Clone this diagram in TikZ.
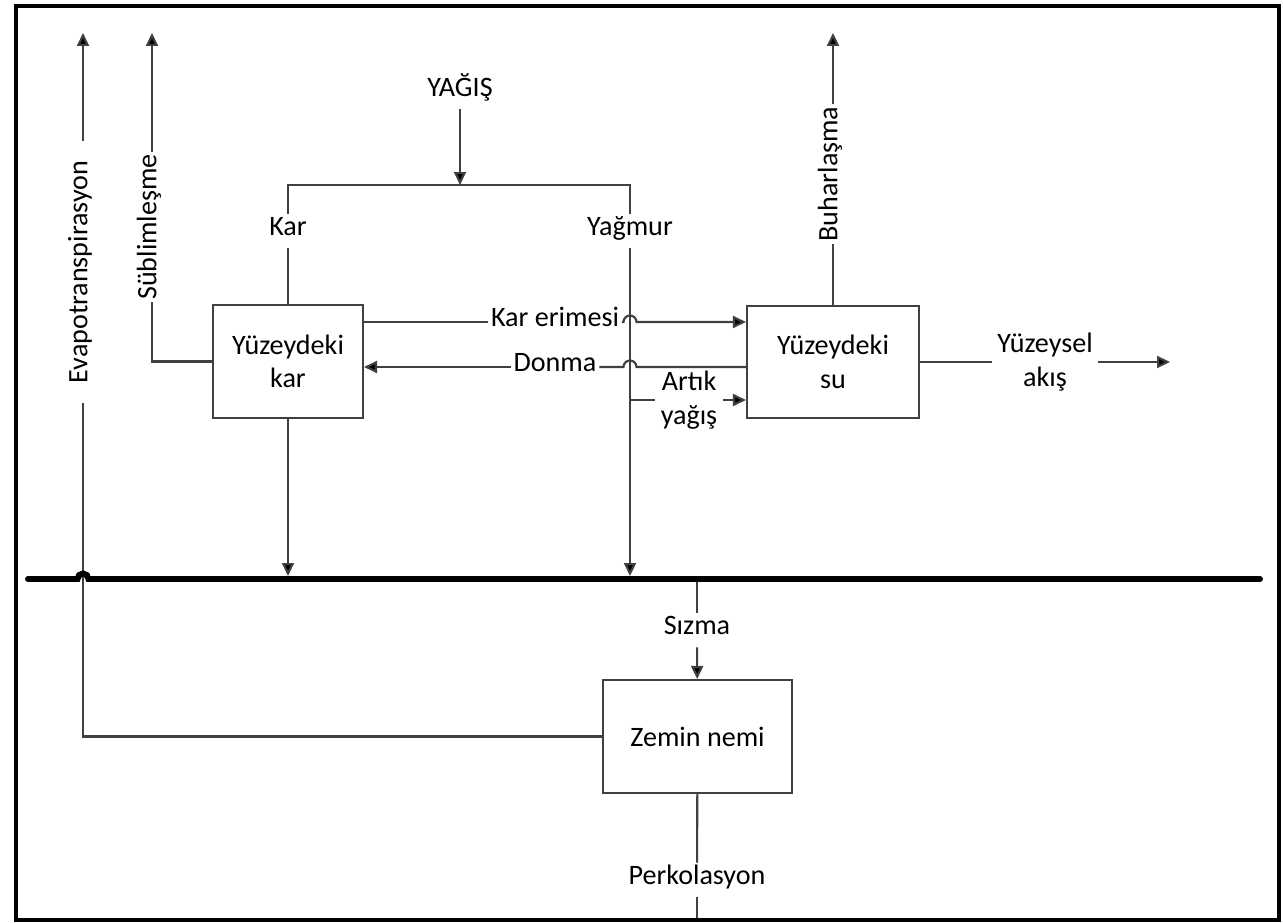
\documentclass[tikz,border=0pt]{standalone}
\usepackage{fontspec}
\setmainfont{Carlito}
\usetikzlibrary{arrows.meta}
\pgfdeclarelayer{bg}
\pgfsetlayers{bg,main}
\tikzset{
        box/.style={draw=black!75, line width=1.2pt, minimum width=3cm, minimum height=2.26cm, align=center, inner sep=0pt},
        lbl/.style={align=center, inner xsep=1.5pt, inner ysep=5pt, text height=1.5ex, text depth=0.45ex},
        lbltwo/.style={align=center, inner xsep=3pt, inner ysep=1pt},
        vlbl/.style={rotate=90, inner xsep=1pt, inner ysep=2pt, text height=1.5ex, text depth=0.45ex},
        flow/.style={draw=black!75, line width=1.2pt},
        tip/.style={flow, -{Triangle[length=0.26cm,width=0.24cm,fill=black]}},
        ground/.style={line width=3.4pt, line cap=round},
}

\begin{document}
\begin{tikzpicture}[x=0.02cm, y=-0.02cm, font=\fontsize{16}{19}\selectfont]
        \useasboundingbox (0,0) rectangle (1283,922);
        \draw[line width=2pt] (16,6) rectangle (1279,920);

        \node (yagis) [lbl] at (460,92) {YAĞIŞ};
        \node (karl) [lbl] at (288,231) {Kar};
        \node (yagmur) [lbl] at (630,231) {Yağmur};
        \node (kar) [box] at (288,361.5) {Yüzeydeki\\kar};
        \node (su) [box, minimum width=3.44cm, minimum height=2.24cm] at (833,362) {Yüzeydeki\\su};
        \node (zemin) [box, minimum width=3.78cm] at (697.5,736.5) {Zemin nemi};
        \node (evapo) [vlbl, inner xsep=11pt] at (83,272) {Evapotranspirasyon};
        \node (sublim) [vlbl] at (152,227) {Süblimleşme};
        \node (buhar) [vlbl] at (833,174) {Buharlaşma};
        \node (erime) [lbl, inner ysep=1pt] at (555,322) {Kar erimesi};
        \node (donma) [lbl, inner ysep=1pt] at (555,367) {Donma};
        \node (artik) [lbltwo] at (689,400) {Artık\\yağış};
        \node (akis) [lbltwo] at (1045,362) {Yüzeysel\\akış};
        \node (sizma) [lbl] at (697,630) {Sızma};
        \node (perko) [lbl] at (697,880) {Perkolasyon};

        \coordinate (brm) at (460,185);
        \coordinate (brr) at (630,185);
        \coordinate (evtop) at (83,33);
        \coordinate (subtop) at (152,33);
        \coordinate (butop) at (833,33);
        \coordinate (akistip) at (1170,362);
        \coordinate (hopa) at (630,322);
        \coordinate (hopb) at (630,367);
        \coordinate (hopg) at (83,579);
        \coordinate (gl) at (28,579);
        \coordinate (gr) at (1260,579);
        \coordinate (perkend) at (697,920);

        \begin{pgfonlayer}{bg}
                \draw[tip] (yagis) -- (brm);
                \draw[flow] (karl) |- (brr) -- (yagmur);
                \draw[flow] (karl) -- (kar);
                \draw[tip, shorten >=1.7pt] (kar) -- (kar |- gl);
                \draw[tip, shorten >=1.7pt] (yagmur) -- (yagmur |- gl);
                \draw[flow] (kar.west) -| (sublim.west);
                \draw[tip] (sublim.east) -- (subtop);
                \draw[tip] (evapo.east) -- (evtop);
                \draw[flow] (zemin.west) -| (evapo.west);
                \draw[flow] (su.north) -- (buhar.west);
                \draw[tip] (buhar.east) -- (butop);
                \draw[flow] (kar.east |- erime) -- (erime.west);
                \draw[tip] (erime.east) -- ([xshift=-0.13cm]hopa) arc[start angle=180, end angle=0, radius=0.13cm] -- (su.west |- erime);
                \draw[flow] (su.west |- donma) -- ([xshift=0.13cm]hopb) arc[start angle=0, end angle=180, radius=0.13cm] -- (donma.east);
                \draw[tip] (donma.west) -- (kar.east |- donma);
                \draw[flow] (yagmur |- artik) -- (artik);
                \draw[tip] (artik) -- (su.west |- artik);
                \draw[flow] (su.east |- akis) -- (akis);
                \draw[tip] (akis) -- (akistip);
                \draw[flow] (sizma |- gl) -- (sizma);
                \draw[tip] (sizma) -- (zemin);
                \draw[flow] (zemin) -- (perko);
                \draw[flow] (perko) -- (perkend);
        \end{pgfonlayer}

        \draw[ground] (gl) -- ([xshift=-0.11cm]hopg) arc[start angle=180, end angle=0, radius=0.11cm] -- (gr);
\end{tikzpicture}
\end{document}
